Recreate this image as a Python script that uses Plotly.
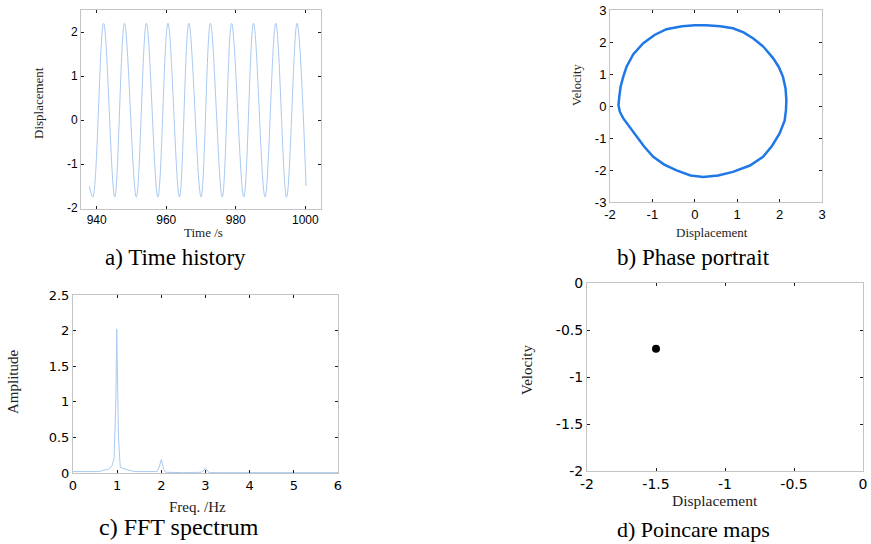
import plotly.graph_objects as go

# ---- data ----
# a) time history: extremes (time, displacement)
th_time = [937.9, 938.9, 942.0, 945.2, 948.0, 951.4, 954.3, 957.6, 960.5, 963.8, 966.5,
           970.0, 972.7, 976.1, 978.8, 982.3, 985.1, 988.4, 991.5, 994.6, 997.6, 1000.2]
th_disp = [-1.5, -1.75, 2.2, -1.75, 2.2, -1.75, 2.2, -1.75, 2.2, -1.75, 2.2,
           -1.75, 2.2, -1.75, 2.2, -1.75, 2.2, -1.75, 2.2, -1.75, 2.2, -1.5]

# b) phase portrait (displacement, velocity)
pp_disp = [0.26, 0.60, 0.90, 1.15, 1.38, 1.62, 1.85, 1.98, 2.08, 2.14, 2.16, 2.15, 2.12, 2.00,
           1.82, 1.61, 1.30, 0.90, 0.55, 0.20, -0.10, -0.43, -0.72, -0.98, -1.20, -1.37,
           -1.55, -1.69, -1.77, -1.80, -1.78, -1.75, -1.69, -1.61, -1.45, -1.215, -0.95,
           -0.67, -0.30, 0.0, 0.26]
pp_vel = [2.52, 2.49, 2.43, 2.30, 2.11, 1.85, 1.49, 1.22, 0.91, 0.55, 0.18, -0.13, -0.45,
          -0.86, -1.25, -1.59, -1.86, -2.06, -2.17, -2.22, -2.17, -2.01, -1.83, -1.59, -1.26,
          -0.96, -0.65, -0.38, -0.17, 0.03, 0.30, 0.60, 0.90, 1.23, 1.62, 1.96, 2.22, 2.40,
          2.49, 2.52, 2.52]

# c) FFT spectrum
fft_freq = [0, 0.3, 0.6, 0.7, 0.8, 0.88, 0.93, 0.97, 0.99, 1.03, 1.07, 1.2, 1.4, 1.6, 1.9,
            1.95, 2.0, 2.05, 2.1, 2.5, 2.9, 2.95, 3.0, 3.05, 3.1, 4, 5, 6]
fft_amp = [0.02, 0.02, 0.02, 0.04, 0.05, 0.1, 0.2, 1.0, 2.02, 0.5, 0.08, 0.05, 0.02, 0.02, 0.02,
           0.08, 0.19, 0.06, 0.01, 0.005, 0.01, 0.03, 0.07, 0.02, 0.005, 0.005, 0.005, 0.005]

# d) Poincare map
pm_disp = [-1.5]
pm_vel = [-0.7]

W, H = 871, 544

def px(x):
    return x / W

def py(y):
    return 1 - y / H

fig = go.Figure()
fig.add_trace(go.Scatter(x=th_time, y=th_disp, mode="lines", line=dict(color="#a9c9f2", width=1, shape="spline"),
                         xaxis="x", yaxis="y", showlegend=False))
fig.add_trace(go.Scatter(x=pp_disp, y=pp_vel, mode="lines", line=dict(color="#1f78e6", width=2.5),
                         xaxis="x2", yaxis="y2", showlegend=False))
fig.add_trace(go.Scatter(x=fft_freq, y=fft_amp, mode="lines", line=dict(color="#a9c9f2", width=1),
                         xaxis="x3", yaxis="y3", showlegend=False))
fig.add_trace(go.Scatter(x=pm_disp, y=pm_vel, mode="markers", marker=dict(color="black", size=8),
                         xaxis="x4", yaxis="y4", showlegend=False))

def lab(v):
    return "%g" % v

def ax(domain, rng, tickvals, font, anchor):
    return dict(domain=domain, range=rng, tickvals=tickvals, ticktext=[lab(v) for v in tickvals],
                showgrid=False, zeroline=False, automargin=False,
                showline=True, linecolor="#c4c4c4", linewidth=1, mirror="ticks", ticks="inside",
                ticklen=3, tickcolor="#222", tickwidth=1, anchor=anchor,
                tickfont=font, fixedrange=True)

fa = dict(family="Liberation Sans", size=12, color="black")
fb = dict(family="Liberation Sans", size=13, color="black")
fc = dict(family="DejaVu Sans", size=13, color="black")
fd = dict(family="DejaVu Sans", size=14, color="black")

layout = dict(
    width=W, height=H, margin=dict(l=0, r=0, t=0, b=0),
    paper_bgcolor="white", plot_bgcolor="white",
    xaxis=ax([px(81), px(321)], [935.5, 1004.5], [940, 960, 980, 1000], fa, "y"),
    yaxis=ax([py(209), py(10)], [-2.02, 2.5], [-2, -1, 0, 1, 2], fa, "x"),
    xaxis2=ax([px(610), px(822)], [-2, 3], [-2, -1, 0, 1, 2, 3], fb, "y2"),
    yaxis2=ax([py(202), py(10)], [-3, 3], [-3, -2, -1, 0, 1, 2, 3], fb, "x2"),
    xaxis3=ax([px(73), px(338)], [0, 6], [0, 1, 2, 3, 4, 5, 6], fc, "y3"),
    yaxis3=ax([py(473), py(295)], [0, 2.5], [0, 0.5, 1, 1.5, 2, 2.5], fc, "x3"),
    xaxis4=ax([px(587), px(863)], [-2, 0], [-2, -1.5, -1, -0.5, 0], fd, "y4"),
    yaxis4=ax([py(471), py(283)], [-2, 0], [-2, -1.5, -1, -0.5, 0], fd, "x4"),
)

def ann(text, x, y, size, angle=0, color="#222"):
    return dict(text=text, x=px(x), y=py(y), xref="paper", yref="paper", showarrow=False,
                xanchor="center", yanchor="middle", textangle=angle,
                font=dict(family="Liberation Serif", size=size, color=color))

annotations = [
    ann("Displacement", 38, 103, 13, -90),
    ann("Time /s", 203, 233, 13),
    ann("Velocity", 577, 85, 12.5, -90),
    ann("Displacement", 712, 233, 13),
    ann("Amplitude", 13, 382, 15, -90),
    ann("Freq. /Hz", 197, 507, 15),
    ann("Velocity", 527, 370, 15, -90),
    ann("Displacement", 715, 500, 15.5),
    ann("a) Time history", 175, 257, 23, color="black"),
    ann("b) Phase portrait", 693, 257, 23, color="black"),
    ann("c) FFT spectrum", 179, 527, 24, color="black"),
    ann("d) Poincare maps", 693, 529, 22, color="black"),
]
layout["annotations"] = annotations
fig.update_layout(**layout)
fig.write_html("out.html")
